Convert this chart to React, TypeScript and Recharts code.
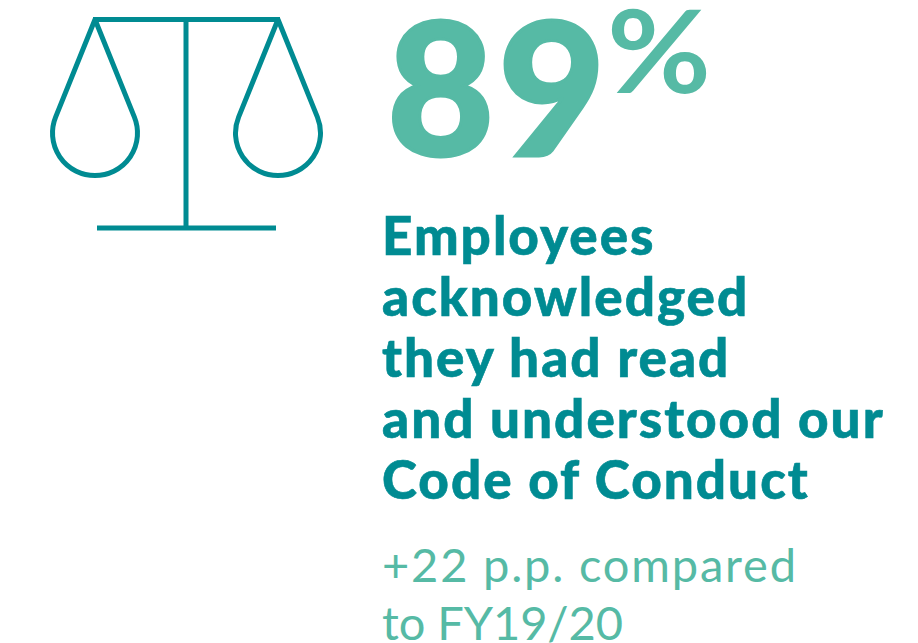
import { ComposedChart, Customized, Bar, XAxis, YAxis } from 'recharts';

const TEAL = '#008b92';
const GREEN = '#56baa5';

const categories = ['FY20/21'];
const acknowledged = [89];
const headingLines = ['Employees', 'acknowledged', 'they had read', 'and understood our', 'Code of Conduct'];
const noteLines = ['+22 p.p. compared', 'to FY19/20'];

const chartData = categories.map((name, i) => ({ name, acknowledged: acknowledged[i] }));

const font = 'Lato, "Open Sans", sans-serif';
const noteWidths = [414, 241];

const ScaleIcon = () => (
  <g fill="none" stroke={TEAL} strokeWidth={5}>
    <path d="M93 19.5H280M186 19.5V228M97 228H276" />
    <path d="M95 19.5L55.6 117.1A42.5 42.5 0 1 0 134.4 117.1Z" strokeLinejoin="round" />
    <path d="M278 19.5L238.6 117.1A42.5 42.5 0 1 0 317.4 117.1Z" strokeLinejoin="round" />
  </g>
);

const Texts = () => (
  <g fontFamily={font}>
    <text x={387} y={155.5} fontSize={185} fontWeight={900} letterSpacing={4} fill={GREEN} stroke={GREEN} strokeWidth={3}>{acknowledged[0]}</text>
    <text x={607} y={93} fontSize={114} fontWeight={700} textLength={104} lengthAdjust="spacingAndGlyphs" fill={GREEN}>%</text>
    {headingLines.map((line, i) => (
      <text key={line} x={382} y={254.5 + i * 61} fontSize={53} fontWeight={900} fill={TEAL} stroke={TEAL} strokeWidth={0.6} letterSpacing={2}>{line}</text>
    ))}
    {noteLines.map((line, i) => (
      <text key={line} x={382} y={582 + i * 58} fontSize={47} fontWeight={400} fill={GREEN} textLength={noteWidths[i]}>{line}</text>
    ))}
  </g>
);

export default function App() {
  return (
    <div style={{ position: 'absolute', left: 0, top: 0, width: 918, height: 643 }}>
      <ComposedChart width={918} height={643} data={chartData} margin={{ top: 0, right: 0, bottom: 0, left: 0 }}>
        <XAxis dataKey="name" hide />
        <YAxis hide domain={[0, 100]} />
        <Bar dataKey="acknowledged" fill="none" isAnimationActive={false} />
        <Customized component={ScaleIcon} />
        <Customized component={Texts} />
      </ComposedChart>
    </div>
  );
}
